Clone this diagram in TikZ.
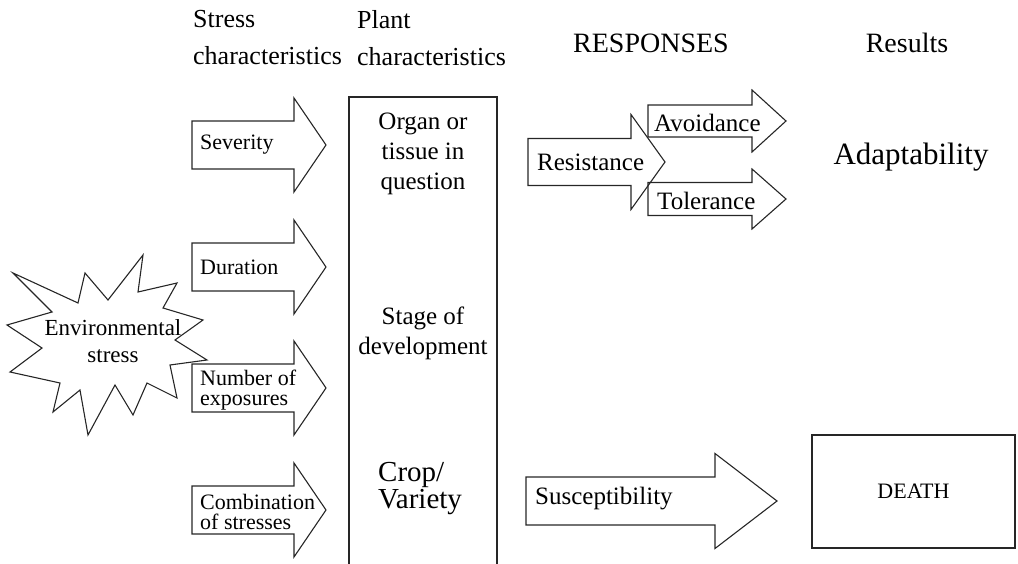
\documentclass[tikz,border=0pt]{standalone}
\usepackage{fontspec}
\setmainfont{Liberation Serif}

% block arrow: tail x, centre y, head base x, tip x, half body, half head
\newcommand{\fatarrow}[6]{%
  \draw[blockline] (#1,#2-#5) -- (#3,#2-#5) -- (#3,#2-#6) -- (#4,#2)
    -- (#3,#2+#6) -- (#3,#2+#5) -- (#1,#2+#5) -- cycle;}

\begin{document}
\begin{tikzpicture}[x=1pt,y=-1pt,
    blockline/.style={draw=black!85,line width=1.1pt},
    head text/.style={anchor=west,inner sep=0pt,font=\fontsize{26}{37}\selectfont,align=left},
    stress label/.style={anchor=west,inner sep=2pt,font=\fontsize{22}{20}\selectfont,align=left},
    plant text/.style={font=\fontsize{25}{30}\selectfont,align=center},
    resp label/.style={anchor=west,inner sep=2pt,font=\fontsize{25}{30}\selectfont}]

    \useasboundingbox (0,0) rectangle (1018,564);

    % column headings
    \node[head text] (hstress) at (193,38) {Stress\\characteristics};
    \node[head text] (hplant) at (357,38) {Plant\\characteristics};
    \node[font=\fontsize{28}{32}\selectfont] (hresp) at (651,43) {RESPONSES};
    \node[font=\fontsize{28}{32}\selectfont] (hres) at (907,43) {Results};

    % environmental stress burst
    \draw[blockline] (13,273) -- (78,303) -- (85,273) -- (108,300) -- (143,255)
        -- (138,292) -- (177,283) -- (163,308) -- (203,320) -- (175,340)
        -- (207,360) -- (170,365) -- (177,398) -- (147,383) -- (133,415)
        -- (115,385) -- (88,435) -- (80,390) -- (53,412) -- (60,383)
        -- (10,372) -- (42,348) -- (7,325) -- (52,312) -- cycle;
    \node[font=\fontsize{23}{27}\selectfont,align=center] (env) at (113,341) {Environmental\\stress};

    % stress characteristics
    \fatarrow{192}{145}{294}{326}{24}{47}
    \fatarrow{192}{267}{294}{326}{24}{47}
    \fatarrow{192}{388}{294}{326}{24}{47}
    \fatarrow{192}{510}{294}{326}{24}{47}
    \node[stress label] (sev) at (198,145) {Severity};
    \node[stress label] (dur) at (198,267) {Duration};
    \node[stress label] (num) at (198,390) {Number of\\exposures};
    \node[stress label] (comb) at (198,512) {Combination\\of stresses};

    % plant characteristics
    \draw[blockline] (349,566) -- (349,97) -- (497,97) -- (497,566);
    \node[plant text] (organ) at (423,154) {Organ or\\tissue in\\question};
    \node[plant text] (stage) at (423,333) {Stage of\\development};
    \node[anchor=west,inner sep=2pt,font=\fontsize{29}{27}\selectfont,align=left] (crop) at (376,489) {Crop/\\Variety};

    % responses
    \fatarrow{528}{162}{631}{665}{23.5}{47.5}
    \fatarrow{648}{121}{752}{786}{16}{31}
    \fatarrow{648}{199}{752}{786}{16.5}{30}
    \fatarrow{526}{501}{715}{777}{24}{47.5}
    \node[resp label] (resist) at (535,162) {Resistance};
    \node[resp label] (avoid) at (652,123) {Avoidance};
    \node[resp label] (toler) at (655,201) {Tolerance};
    \node[resp label] (suscept) at (533,499) {Susceptibility};

    % results
    \node[font=\fontsize{31}{36}\selectfont] (adapt) at (911,157) {Adaptability};
    \node[blockline,minimum width=203pt,minimum height=113pt,
        font=\fontsize{22}{26}\selectfont] (death) at (913.5,491.5) {DEATH};

\end{tikzpicture}
\end{document}
